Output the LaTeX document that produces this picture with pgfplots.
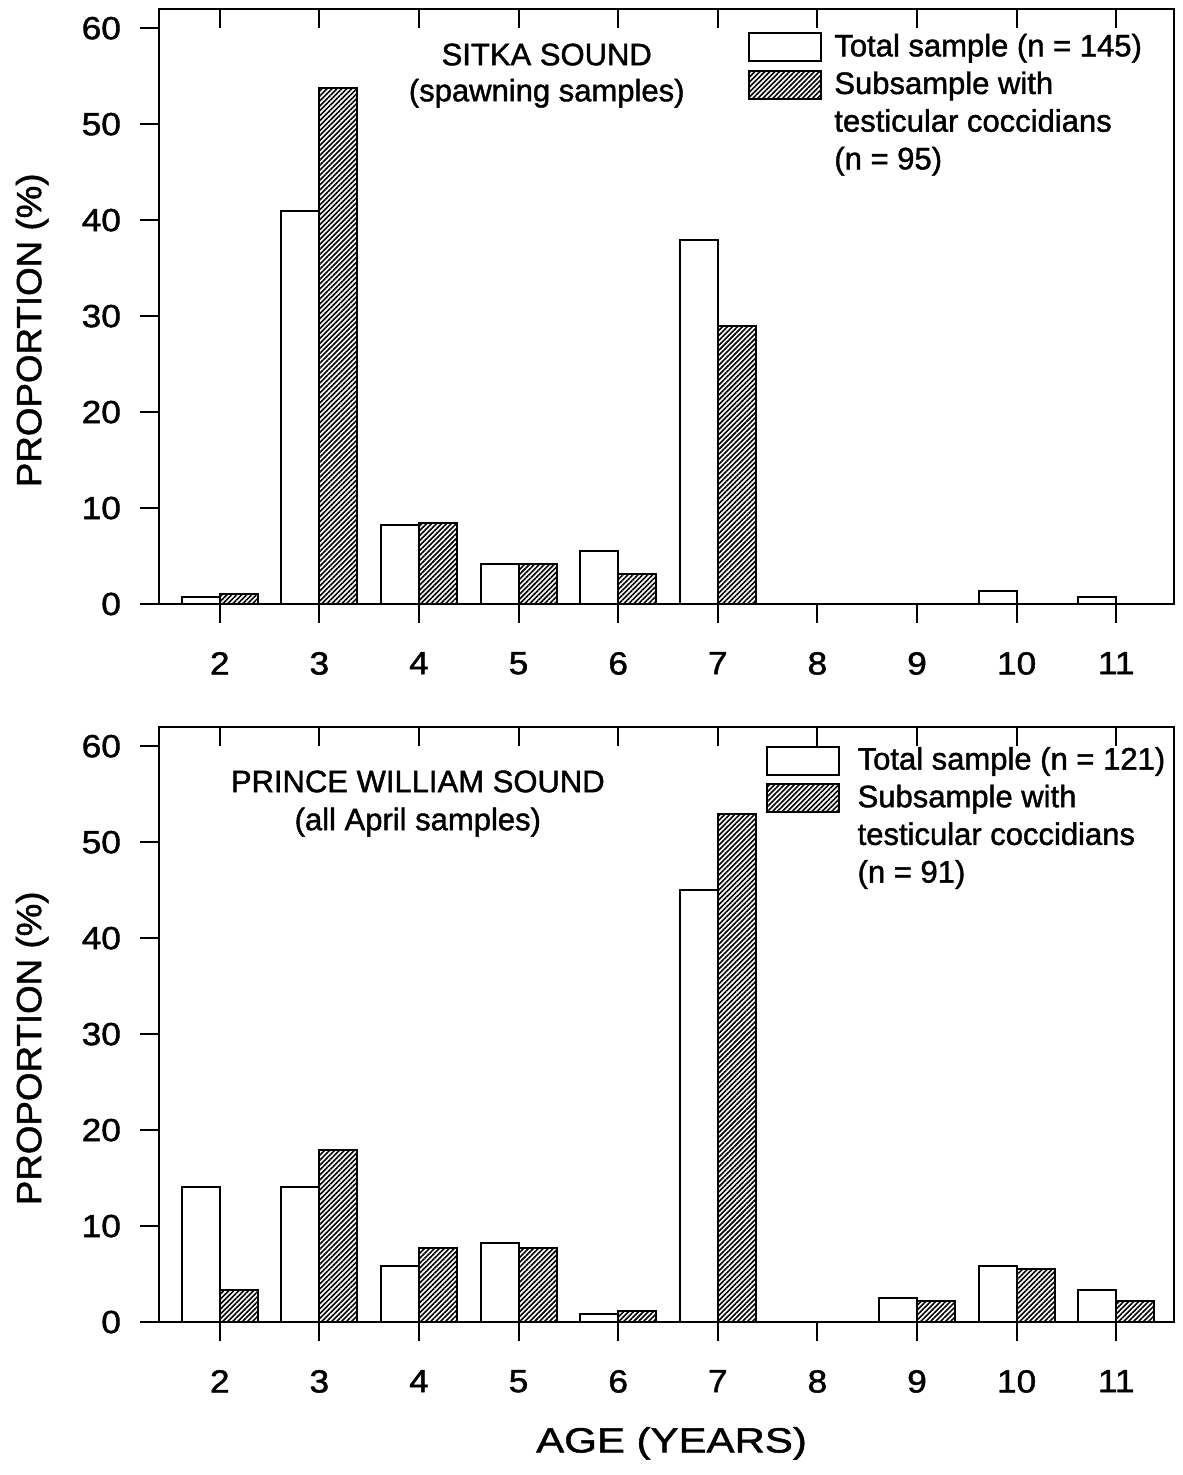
\documentclass[border=0pt]{standalone}
\usepackage{fontspec}
\setmainfont[FakeBold=1.4]{Liberation Sans}
\newfontfamily\txtfont[FakeBold=1.4]{Liberation Sans}
\newfontfamily\tickfont[FakeStretch=1.1,FakeBold=1.4]{Liberation Sans}
\newfontfamily\xlabfont[FakeStretch=1.2,FakeBold=1.4]{Liberation Sans}
\newfontfamily\ylabfont[FakeStretch=1.05,FakeBold=1.4]{Liberation Sans}
\usepackage{pgfplots}
\pgfplotsset{compat=1.18}
\usetikzlibrary{patterns.meta}

\pgfplotsset{
 panel/.style={
  scale only axis, width=304.5pt, height=178.5pt,
  xmin=1.39, xmax=11.58, ymin=0, ymax=62,
  xtick={2,...,11}, ytick={0,10,...,60},
  tick align=outside, major tick length=5.7pt,
  xtick pos=left, ytick pos=left,
  axis line style={line width=0.65pt},
  every tick/.style={black, line width=0.6pt},
  /pgf/number format/assume math mode=true,
  ticklabel style={font=\tickfont\fontsize{9.6}{10}\selectfont},
  xticklabel style={yshift=-5.2pt},
  yticklabel style={xshift=-2.2pt},
  ybar=0pt, bar width=11.4pt,
  ylabel={PROPORTION (\%)},
  ylabel style={font=\ylabfont\fontsize{10.5}{11}\selectfont, at={(axis description cs:-0.125,0.46)}, anchor=center},
  legend cell align=left,
 },
 topticks/.style={scale only axis, width=304.5pt, height=178.5pt,
  xmin=1.39, xmax=11.58, ymin=0, ymax=62,
  xtick={2,...,11}, ytick=\empty, xticklabels={},
  tick align=inside, major tick length=5.7pt, xtick pos=right,
  axis line style={line width=0.65pt},
  every tick/.style={black, line width=0.6pt}},
 whitebar/.style={draw=black, fill=white, line width=0.6pt,
  legend image code/.code={\draw[##1] (0pt,-4.2pt) rectangle (21.6pt,4.2pt);}},
 hatchbar/.style={draw=black, line width=0.6pt,
  pattern={Lines[angle=45,distance=1.05pt,line width=0.48pt]}, pattern color=black,
  legend image code/.code={\draw[##1] (0pt,-4.2pt) rectangle (21.6pt,4.2pt);}},
 mylegend/.style={draw=none, fill=none, inner sep=0pt, outer sep=0pt,
    font=\txtfont\fontsize{9.3}{10}\selectfont,
    nodes={inner sep=0.8pt, text height=7.5pt, text depth=2.2pt},
    row sep=0pt},
}

\begin{document}
\begin{tikzpicture}
\path[use as bounding box] (-47.7pt,-261.3pt) rectangle (306.9pt,181.2pt);

% ---------- Top panel: Sitka Sound ----------
\begin{axis}[panel, at={(0pt,0pt)}, anchor=south west,
  legend style={mylegend, at={(axis description cs:0.58,0.967)}, anchor=north west, column sep=3pt}]
\addplot[whitebar] coordinates {(2,0.69) (3,41.0) (4,8.28) (5,4.14) (6,5.52) (7,37.93) (8,0) (9,0) (10,1.38) (11,0.69)};
\addplot[hatchbar] coordinates {(2,1.05) (3,53.8) (4,8.42) (5,4.21) (6,3.16) (7,29.0) (8,0) (9,0) (10,0) (11,0)};
\addlegendimage{empty legend}
\addlegendimage{empty legend}
\legend{Total sample (n = 145), Subsample with, testicular coccidians, (n = 95)}
\node[font=\txtfont\fontsize{9.3}{10.8}\selectfont, align=center, anchor=north, inner sep=0pt]
  at (axis description cs:0.382,0.943) {SITKA SOUND\\(spawning samples)};
\end{axis}
\begin{axis}[topticks, at={(0pt,0pt)}, anchor=south west]
\end{axis}

% ---------- Bottom panel: Prince William Sound ----------
\begin{axis}[panel, at={(0pt,-215.4pt)}, anchor=south west,
  xlabel={AGE (YEARS)},
  xlabel style={font=\xlabfont\fontsize{10.5}{11}\selectfont, at={(axis description cs:0.505,-0.204)}, anchor=center},
  legend style={mylegend, at={(axis description cs:0.598,0.975)}, anchor=north west, column sep=4.5pt}]
\addplot[whitebar] coordinates {(2,14.05) (3,14.05) (4,5.79) (5,8.26) (6,0.83) (7,45.0) (8,0) (9,2.48) (10,5.79) (11,3.31)};
\addplot[hatchbar] coordinates {(2,3.30) (3,17.9) (4,7.69) (5,7.69) (6,1.10) (7,52.9) (8,0) (9,2.20) (10,5.49) (11,2.20)};
\addlegendimage{empty legend}
\addlegendimage{empty legend}
\legend{Total sample (n = 121), Subsample with, testicular coccidians, (n = 91)}
\node[font=\txtfont\fontsize{9.3}{11.4}\selectfont, align=center, anchor=north, inner sep=0pt]
  at (axis description cs:0.255,0.928) {PRINCE WILLIAM SOUND\\(all April samples)};
\end{axis}
\begin{axis}[topticks, at={(0pt,-215.4pt)}, anchor=south west]
\end{axis}
\end{tikzpicture}
\end{document}
